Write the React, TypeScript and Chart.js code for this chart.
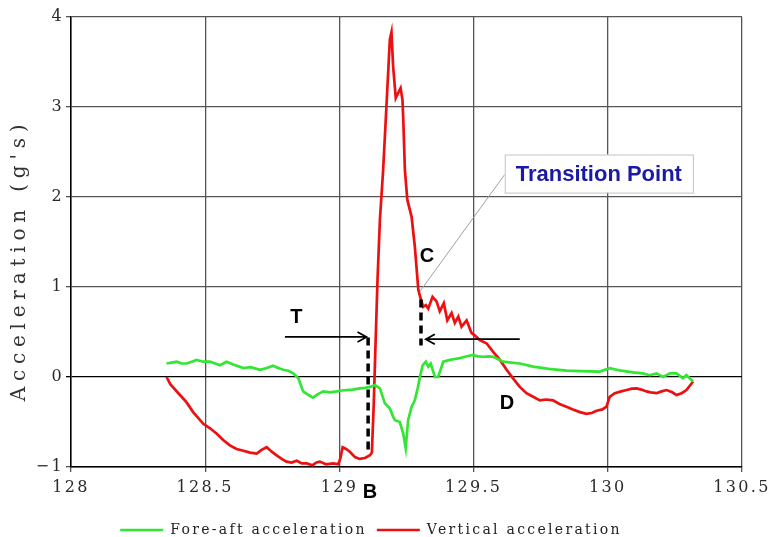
import React, { useEffect, useRef } from 'react';
import { Chart, registerables } from 'chart.js';

Chart.register(...registerables);

// ---------- data ----------
const seriesNames = ['Fore-aft acceleration', 'Vertical acceleration'];
const yAxisTitle = "Acceleration (g's)";

const xTickValues = [128, 128.5, 129, 129.5, 130, 130.5];
const xTickLabels = ['128', '128.5', '129', '129.5', '130', '130.5'];
const yTickValues = [-1, 0, 1, 2, 3, 4];
const yTickLabels = ['−1', '0', '1', '2', '3', '4'];

const foreAftX = [
  128.356, 128.375, 128.394, 128.412, 128.431, 128.45, 128.468, 128.493, 128.518, 128.537,
  128.555, 128.58, 128.605, 128.642, 128.67, 128.704, 128.73, 128.753, 128.772, 128.791,
  128.81, 128.828, 128.847, 128.865, 128.885, 128.902, 128.92, 128.94, 128.965, 128.99,
  129.01, 129.027, 129.05, 129.076, 129.095, 129.114, 129.132, 129.151, 129.169, 129.188,
  129.2, 129.207, 129.225, 129.238, 129.247, 129.256, 129.269, 129.281, 129.292, 129.3,
  129.31, 129.322, 129.331, 129.34, 129.356, 129.368, 129.387, 129.412, 129.43, 129.449,
  129.475, 129.498, 129.515, 129.536, 129.555, 129.573, 129.59, 129.61, 129.64, 129.672,
  129.722, 129.78, 129.846, 129.9, 129.97, 130.007, 130.05, 130.094, 130.13, 130.156,
  130.181, 130.206, 130.231, 130.256, 130.28, 130.293, 130.318,
];
const foreAftY = [
  0.15, 0.16, 0.17, 0.15, 0.15, 0.17, 0.19, 0.17, 0.17, 0.15,
  0.13, 0.17, 0.14, 0.1, 0.11, 0.08, 0.1, 0.126, 0.1, 0.08,
  0.07, 0.04, -0.015, -0.16, -0.2, -0.23, -0.19, -0.16, -0.17, -0.16,
  -0.15, -0.145, -0.14, -0.126, -0.12, -0.11, -0.09, -0.126, -0.29, -0.35,
  -0.44, -0.48, -0.5, -0.63, -0.79, -0.48, -0.33, -0.26, -0.12, 0.0,
  0.13, 0.17, 0.115, 0.15, 0.0, 0.0, 0.17, 0.19, 0.2, 0.21,
  0.23, 0.245, 0.23, 0.225, 0.23, 0.225, 0.2, 0.17, 0.16, 0.15,
  0.115, 0.09, 0.07, 0.065, 0.06, 0.097, 0.07, 0.052, 0.04, 0.02,
  0.04, 0.0, 0.04, 0.04, -0.015, 0.02, -0.05,
];

const verticalX = [
  128.356, 128.37, 128.406, 128.43, 128.455, 128.493, 128.518, 128.543, 128.567, 128.592,
  128.617, 128.642, 128.667, 128.692, 128.71, 128.729, 128.748, 128.766, 128.785, 128.803,
  128.822, 128.841, 128.86, 128.878, 128.9, 128.915, 128.927, 128.95, 128.977, 128.996,
  129.004, 129.012, 129.025, 129.039, 129.058, 129.076, 129.095, 129.114, 129.121, 129.128,
  129.135, 129.142, 129.151, 129.163, 129.176, 129.188, 129.194, 129.2, 129.21, 129.218,
  129.228, 129.235, 129.238, 129.244, 129.253, 129.269, 129.281, 129.294, 129.3, 129.312,
  129.322, 129.331, 129.347, 129.362, 129.374, 129.389, 129.402, 129.418, 129.43, 129.443,
  129.455, 129.474, 129.492, 129.505, 129.523, 129.548, 129.573, 129.598, 129.623, 129.647,
  129.672, 129.697, 129.722, 129.747, 129.77, 129.796, 129.82, 129.846, 129.87, 129.896,
  129.921, 129.94, 129.958, 129.98, 129.995, 130.007, 130.026, 130.05, 130.07, 130.09,
  130.107, 130.125, 130.144, 130.16, 130.181, 130.2, 130.219, 130.24, 130.256, 130.275,
  130.293, 130.318,
];
const verticalY = [
  0.0, -0.08, -0.2, -0.28, -0.39, -0.52, -0.57, -0.63, -0.7, -0.76,
  -0.8, -0.82, -0.84, -0.85, -0.81, -0.78, -0.83, -0.87, -0.91, -0.94,
  -0.95, -0.93, -0.96, -0.96, -0.98, -0.95, -0.94, -0.97, -0.96, -0.97,
  -0.9, -0.78, -0.8, -0.83, -0.89, -0.91, -0.9, -0.87, -0.84, -0.3,
  0.4, 1.08, 1.75, 2.3, 3.05, 3.75, 3.83, 3.46, 3.1, 3.15,
  3.21, 3.08, 2.86, 2.3, 1.97, 1.78, 1.45, 0.97, 0.9, 0.78,
  0.8, 0.76, 0.89, 0.84, 0.73, 0.82, 0.63, 0.71, 0.6, 0.67,
  0.56, 0.63, 0.49, 0.46, 0.41, 0.375, 0.28, 0.19, 0.08, -0.015,
  -0.11, -0.18, -0.22, -0.26, -0.25, -0.26, -0.3, -0.33, -0.36, -0.39,
  -0.41, -0.4, -0.375, -0.36, -0.33, -0.22, -0.18, -0.16, -0.145, -0.13,
  -0.126, -0.14, -0.16, -0.17, -0.18, -0.16, -0.145, -0.17, -0.2, -0.18,
  -0.145, -0.05,
];

// ---------- styling ----------
const GREEN = '#33e633';
const RED = '#ec1010';
const SERIF = "'DejaVu Serif', serif";
const SANS = "'Liberation Sans', Arial, sans-serif";
const SPACING = '2.3px';

const letterSpacingPlugin = {
  id: 'letterSpacing',
  beforeUpdate(chart: any) {
    chart.ctx.letterSpacing = SPACING;
  },
  beforeDraw(chart: any) {
    chart.ctx.letterSpacing = SPACING;
  },
};

const annotationPlugin = {
  id: 'annotations',
  afterDraw(chart: any) {
    const ctx = chart.ctx as CanvasRenderingContext2D;
    const xs = chart.scales.x;
    const ys = chart.scales.y;
    const px = (v: number) => xs.getPixelForValue(v);
    const py = (v: number) => ys.getPixelForValue(v);
    const area = chart.chartArea;
    ctx.save();
    (ctx as any).letterSpacing = '0px';

    // y axis title
    ctx.save();
    (ctx as any).letterSpacing = '5.8px';
    ctx.translate(20, (area.top + area.bottom) / 2 + 18);
    ctx.rotate(-Math.PI / 2);
    ctx.font = `20px ${SERIF}`;
    ctx.fillStyle = '#333';
    ctx.textAlign = 'center';
    ctx.textBaseline = 'middle';
    ctx.fillText(yAxisTitle, 0, 0);
    ctx.restore();

    // leader line to "Transition Point"
    ctx.strokeStyle = '#a0a0a0';
    ctx.lineWidth = 1;
    ctx.beginPath();
    ctx.moveTo(px(129.3), py(0.95));
    ctx.lineTo(px(129.616), py(2.25));
    ctx.stroke();

    // Transition Point box
    const bx0 = px(129.616), bx1 = px(130.317), by0 = py(2.472), by1 = py(2.049);
    ctx.fillStyle = '#ffffff';
    ctx.fillRect(bx0, by0, bx1 - bx0, by1 - by0);
    ctx.strokeStyle = '#c4c4c4';
    ctx.lineWidth = 1;
    ctx.strokeRect(bx0 + 0.5, by0 + 0.5, bx1 - bx0, by1 - by0);
    ctx.font = `bold 22px ${SANS}`;
    ctx.fillStyle = '#1a1aa6';
    ctx.textAlign = 'center';
    ctx.textBaseline = 'middle';
    ctx.fillText('Transition Point', (bx0 + bx1) / 2, (by0 + by1) / 2 + 1);

    // dashed markers
    ctx.strokeStyle = '#000';
    ctx.lineWidth = 3.5;
    ctx.setLineDash([8, 5]);
    ctx.beginPath();
    ctx.moveTo(px(129.107), py(0.44));
    ctx.lineTo(px(129.107), py(-0.86));
    ctx.moveTo(px(129.304), py(0.86));
    ctx.lineTo(px(129.304), py(0.35));
    ctx.stroke();
    ctx.setLineDash([]);

    // arrows
    const arrow = (x0: number, x1: number, yv: number) => {
      const a = px(x0), b = px(x1), yy = py(yv);
      const dir = b > a ? 1 : -1;
      ctx.strokeStyle = '#000';
      ctx.lineWidth = 1.8;
      ctx.beginPath();
      ctx.moveTo(a, yy);
      ctx.lineTo(b, yy);
      ctx.moveTo(b - dir * 9, yy - 5);
      ctx.lineTo(b, yy);
      ctx.lineTo(b - dir * 9, yy + 5);
      ctx.stroke();
    };
    arrow(128.797, 129.101, 0.445);
    arrow(129.672, 129.322, 0.42);

    // letters
    ctx.font = `bold 20px ${SANS}`;
    ctx.fillStyle = '#000';
    ctx.textAlign = 'center';
    ctx.textBaseline = 'middle';
    ctx.fillText('T', px(128.84), py(0.66));
    ctx.fillText('C', px(129.326), py(1.336));
    ctx.fillText('D', px(129.624), py(-0.29));
    ctx.fillText('B', px(129.114), py(-1.28));
    ctx.restore();
  },
};

function pairs(xs: number[], ys: number[]) {
  return xs.map((x, i) => ({ x, y: ys[i] }));
}

export default function App() {
  const canvasRef = useRef<HTMLCanvasElement | null>(null);

  useEffect(() => {
    const canvas = canvasRef.current;
    if (!canvas) return;
    const chart = new Chart(canvas, {
      type: 'line',
      data: {
        datasets: [
          {
            label: seriesNames[0],
            data: pairs(foreAftX, foreAftY),
            borderColor: GREEN,
            backgroundColor: GREEN,
            borderWidth: 2.7,
            pointRadius: 0,
            tension: 0,
            fill: false,
          },
          {
            label: seriesNames[1],
            data: pairs(verticalX, verticalY),
            borderColor: RED,
            backgroundColor: RED,
            borderWidth: 2.7,
            pointRadius: 0,
            tension: 0,
            fill: false,
          },
        ],
      },
      options: {
        animation: false,
        responsive: false,
        devicePixelRatio: 1,
        layout: { padding: { left: 0, right: 31, top: 17, bottom: -10 } },
        plugins: {
          legend: {
            position: 'bottom',
            labels: {
              font: { family: SERIF, size: 14 },
              color: '#222',
              usePointStyle: true,
              pointStyle: 'line',
              pointStyleWidth: 43,
              padding: 10,
            },
          },
          tooltip: { enabled: false },
        },
        scales: {
          x: {
            type: 'linear',
            min: 128,
            max: 130.5,
            afterBuildTicks: (s: any) => {
              s.ticks = xTickValues.map((v) => ({ value: v }));
            },
            afterFit: (s: any) => {
              s.height = 46;
              s.paddingLeft = 0;
              s.paddingRight = 0;
            },
            ticks: {
              autoSkip: false,
              maxRotation: 0,
              padding: 6,
              color: '#2a2a2a',
              font: { family: SERIF, size: 16 },
              callback: (v: any) => {
                const i = xTickValues.indexOf(Number(v));
                return i >= 0 ? xTickLabels[i] : '';
              },
            },
            grid: { color: '#555', lineWidth: 1.3, tickLength: 5 },
            border: { color: '#000', width: 1.5 },
          },
          y: {
            type: 'linear',
            min: -1,
            max: 4,
            afterBuildTicks: (s: any) => {
              s.ticks = yTickValues.map((v) => ({ value: v }));
            },
            afterFit: (s: any) => {
              s.width = 71;
              s.paddingTop = 0;
              s.paddingBottom = 0;
            },
            ticks: {
              padding: 2,
              color: '#2a2a2a',
              font: { family: SERIF, size: 16 },
              callback: (v: any) => {
                const i = yTickValues.indexOf(Number(v));
                return i >= 0 ? yTickLabels[i] : '';
              },
            },
            grid: {
              color: (c: any) => (c.tick && c.tick.value === 0 ? '#000' : '#555'),
              lineWidth: 1.3,
              tickLength: 5,
            },
            border: { color: '#000', width: 1.5 },
          },
        },
      } as any,
      plugins: [letterSpacingPlugin, annotationPlugin],
    });
    return () => chart.destroy();
  }, []);

  return (
    <div style={{ position: 'absolute', left: 0, top: 0, width: 773, height: 537, background: '#fff' }}>
      <canvas ref={canvasRef} width={773} height={537} />
    </div>
  );
}
